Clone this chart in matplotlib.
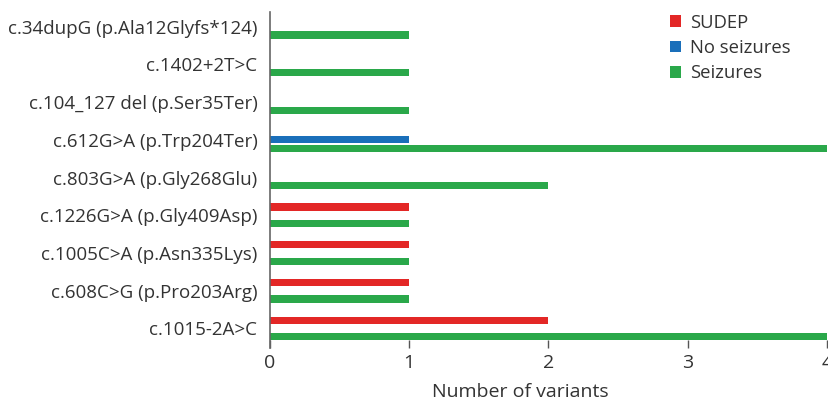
import matplotlib.pyplot as plt
import numpy as np

plt.rcParams['font.family'] = ['Open Sans', 'DejaVu Sans']

variants = [
    'c.34dupG (p.Ala12Glyfs*124)',
    'c.1402+2T>C',
    'c.104_127 del (p.Ser35Ter)',
    'c.612G>A (p.Trp204Ter)',
    'c.803G>A (p.Gly268Glu)',
    'c.1226G>A (p.Gly409Asp)',
    'c.1005C>A (p.Asn335Lys)',
    'c.608C>G (p.Pro203Arg)',
    'c.1015-2A>C',
]
sudep = [0, 0, 0, 0, 0, 1, 1, 1, 2]
no_seizures = [0, 0, 0, 1, 0, 0, 0, 0, 0]
seizures = [1, 1, 1, 4, 2, 1, 1, 1, 4]

series = [('SUDEP', sudep, '#e32726'),
          ('No seizures', no_seizures, '#1a6fba'),
          ('Seizures', seizures, '#2aa84a')]

text_color = '#333333'

fig = plt.figure(figsize=(8.29, 4.05), dpi=100)
ax = fig.add_axes([270 / 829, 57 / 405, 557 / 829, 336 / 405])

y = np.arange(len(variants))
offset = 0.219
height = 0.19
for k, (name, vals, color) in enumerate(series):
    ax.barh(y + (k - 1) * offset, vals, height=height, color=color, label=name)

ax.set_xlim(0, 4)
ax.set_ylim(8.52, -0.39)
ax.set_xticks([0, 1, 2, 3, 4])
ax.set_yticks(y)
ax.set_yticklabels(variants, fontsize=13.5, color=text_color)
ax.tick_params(axis='y', length=0, pad=9)
ax.tick_params(axis='x', direction='in', length=6, width=1, color='#555555',
               labelsize=14, labelcolor=text_color, pad=4)
ax.set_xlabel('Number of variants', fontsize=14, color=text_color, labelpad=10)
ax.xaxis.set_label_coords(0.449, -0.105)

for side in ['top', 'right', 'bottom']:
    ax.spines[side].set_visible(False)
ax.spines['left'].set_color('#666666')
ax.spines['left'].set_linewidth(1.2)

leg = ax.legend(loc='upper right', bbox_to_anchor=(0.964, 1.045), frameon=False,
                fontsize=13.3, handlelength=0.6, handleheight=0.6,
                handletextpad=0.45, labelspacing=0.4)
for t in leg.get_texts():
    t.set_color(text_color)

fig.savefig('out.png', dpi=100)
